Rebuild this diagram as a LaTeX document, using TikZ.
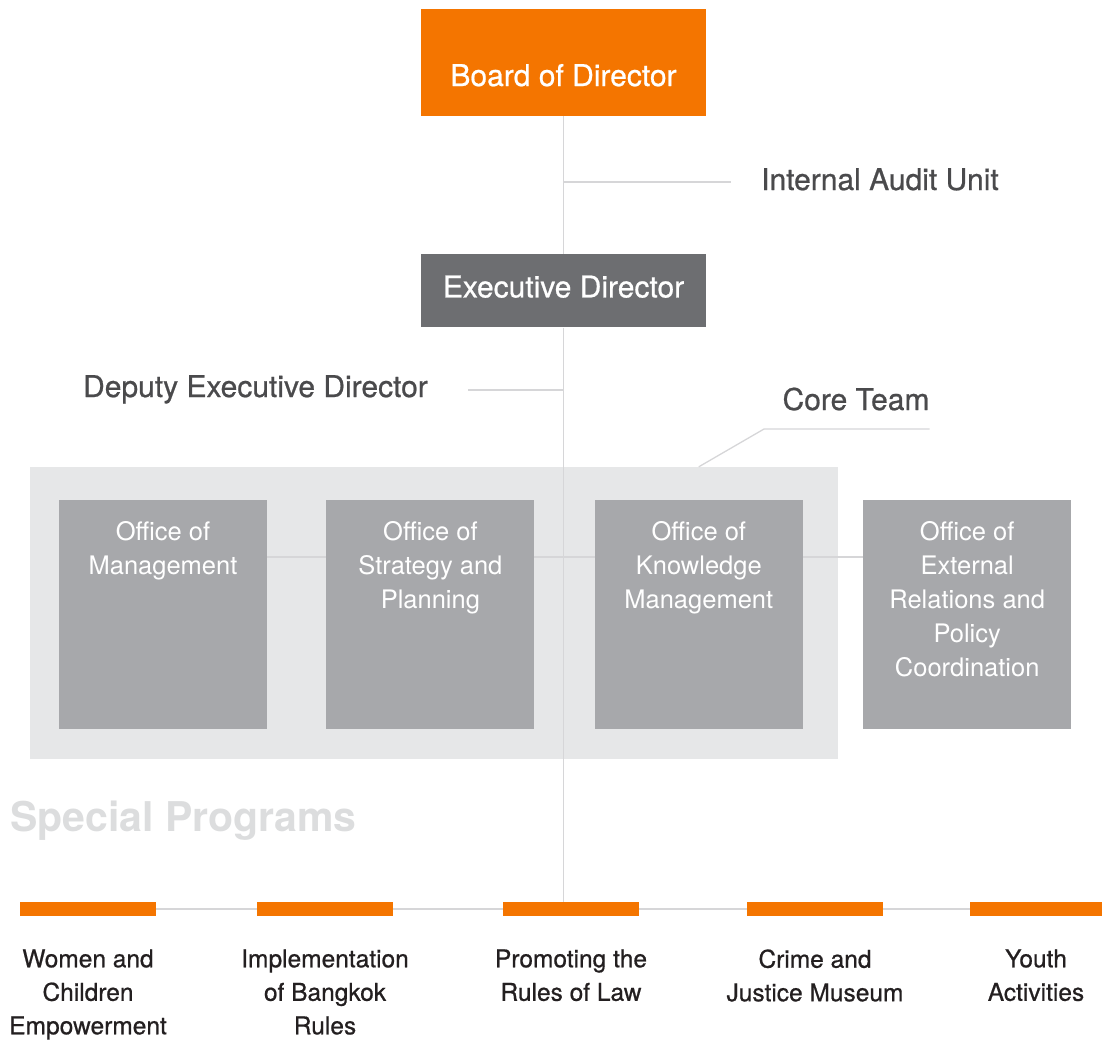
\documentclass[tikz,border=0pt]{standalone}
\usepackage{fontspec}
\setmainfont{TeX Gyre Heros}
\newfontfamily\medfont{TeX Gyre Heros}[FakeBold=0.7]
\usetikzlibrary{positioning}
\definecolor{boardorange}{HTML}{F47500}
\definecolor{execgray}{HTML}{6D6E71}
\definecolor{officegray}{HTML}{A7A8AB}
\definecolor{panelgray}{HTML}{E6E7E8}
\definecolor{linkgray}{HTML}{D6D6D8}
\definecolor{headtext}{HTML}{4A4A4C}
\definecolor{darktext}{HTML}{231F20}
\definecolor{faintgray}{HTML}{DCDDDE}
\pgfdeclarelayer{panel}
\pgfdeclarelayer{links}
\pgfsetlayers{panel,links,main}
\tikzset{
    board box/.style = {
        fill = boardorange,
        text = white,
        minimum width = 285pt,
        minimum height = 107pt,
        inner sep = 0pt,
        text height = 47pt,
        text depth = 0pt,
        font = \medfont\fontsize{30}{34}\selectfont,
        },
    exec box/.style = {
        fill = execgray,
        text = white,
        minimum width = 285pt,
        minimum height = 73pt,
        inner sep = 0pt,
        text height = 20pt,
        text depth = 7pt,
        font = \medfont\fontsize{30}{34}\selectfont,
        },
    side text/.style = {
        text = headtext,
        inner xsep = 30pt,
        inner ysep = 0pt,
        font = \medfont\fontsize{30}{34}\selectfont,
        },
    core panel/.style = {
        fill = panelgray,
        minimum width = 808pt,
        minimum height = 292pt,
        inner sep = 0pt,
        },
    office/.style = {
        fill = officegray,
        minimum width = 208pt,
        minimum height = 229pt,
        inner sep = 0pt,
        },
    office text/.style = {
        anchor = north,
        yshift = -21pt,
        text = white,
        align = center,
        inner sep = 0pt,
        font = \fontsize{25.5}{34}\selectfont,
        },
    program bar/.style = {
        fill = boardorange,
        minimum width = 136pt,
        minimum height = 14pt,
        inner sep = 0pt,
        },
    program text/.style = {
        text = darktext,
        align = center,
        inner sep = 0pt,
        font = \medfont\fontsize{24.5}{33.5}\selectfont,
        },
    special text/.style = {
        anchor = base west,
        text = faintgray,
        inner sep = 0pt,
        font = \fontsize{41}{48}\selectfont\bfseries,
        },
    link/.style = {
        draw = linkgray,
        line width = 1.3pt,
        },
}

\begin{document}
\begin{tikzpicture}[x=1pt, y=-1pt]
    \useasboundingbox (0,0) rectangle (1102,1039);

    \node[board box] (board) at (563.5,62.5) {Board of Director};
    \node[exec box, below=138pt of board] (exec) {Executive Director};
    \node[side text, anchor=base west] (audit) at (731,190) {Internal Audit Unit};
    \node[side text, anchor=base east, inner xsep=40pt] (deputy) at (468,397) {Deputy Executive Director};
    \node[side text, anchor=base, inner xsep=0pt] (coreteam) at (856,410) {Core Team};

    % core team and the offices
    \begin{pgfonlayer}{panel}
        \node[core panel] (core) at (434,613) {};
    \end{pgfonlayer}
    \node[office, label={[office text]north:Office of\\Management}] (mgmt) at (163,614.5) {};
    \node[office, right=59pt of mgmt, label={[office text]north:Office of\\Strategy and\\Planning}] (strategy) {};
    \node[office, right=60pt of strategy, label={[office text]north:Office of\\Knowledge\\Management}] (knowledge) {};
    \node[office, right=60pt of knowledge, label={[office text]north:Office of\\External\\Relations and\\Policy\\Coordination}] (external) {};

    % special programs
    \node[special text] (special) at (10,831) {Special Programs};
    \node[program bar] (bwomen) at (88,909) {};
    \node[program bar] (bbangkok) at (325,909) {};
    \node[program bar] (blaw) at (571,909) {};
    \node[program bar] (bmuseum) at (815,909) {};
    \node[program bar, minimum width=132pt] (byouth) at (1036,909) {};
    \node[program text, below=33pt of bwomen] (women) {Women and\\Children\\Empowerment};
    \node[program text, below=33pt of bbangkok] (bangkok) {Implementation\\of Bangkok\\Rules};
    \node[program text, below=33pt of blaw] (law) {Promoting the\\Rules of Law};
    \node[program text, below=33pt of bmuseum] (museum) {Crime and\\Justice Museum};
    \node[program text, below=33pt of byouth] (youth) {Youth\\Activities};

    \coordinate (auditfork) at (563.5,182);
    \coordinate (deputyfork) at (563.5,390);
    \coordinate (corebend) at (764,429);

    \begin{pgfonlayer}{links}
        \draw[link] (board) -- (exec);
        \draw[link] (exec) -- (exec.south |- blaw.north);
        \draw[link] (auditfork) -- (audit.west |- auditfork);
        \draw[link] (deputy.east |- deputyfork) -- (deputyfork);
        \draw[link] ([yshift=57.5pt]mgmt.east) -- ([yshift=57.5pt]external.west);
        \draw[link] (knowledge |- core.north) -- (corebend) -- (corebend -| coreteam.east);
        \draw[link] (bwomen) -- (byouth);
    \end{pgfonlayer}
\end{tikzpicture}
\end{document}
